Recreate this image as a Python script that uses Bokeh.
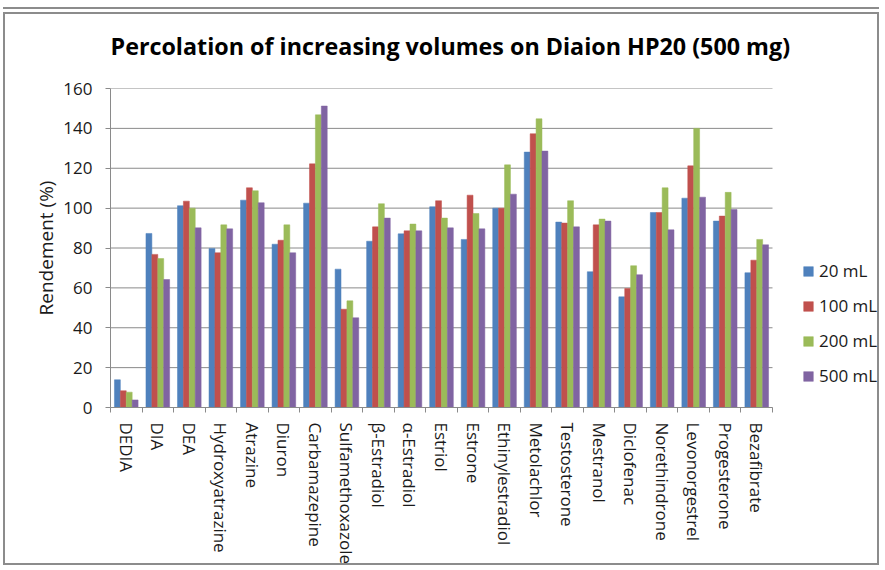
import numpy as np
from bokeh.plotting import figure
from bokeh.models import (ColumnDataSource, Range1d, LinearAxis, FixedTicker,
                          Legend, LegendItem, Title)
from bokeh.embed import file_html
from bokeh.resources import INLINE

compounds = ["DEDIA", "DIA", "DEA", "Hydroxyatrazine", "Atrazine", "Diuron",
             "Carbamazepine", "Sulfamethoxazole", "β-Estradiol", "α-Estradiol",
             "Estriol", "Estrone", "Ethinylestradiol", "Metolachlor",
             "Testosterone", "Mestranol", "Diclofenac", "Norethindrone",
             "Levonorgestrel", "Progesterone", "Bezafibrate"]
v20 = [13.9, 87.3, 101.2, 79.8, 104.0, 81.9, 102.5, 69.4, 83.4, 87.1, 100.7,
       84.3, 100.0, 128.1, 93.0, 68.1, 55.5, 97.8, 105.0, 93.5, 67.6]
v100 = [8.4, 76.8, 103.5, 77.6, 110.2, 83.9, 122.2, 49.3, 90.6, 88.6, 103.7,
        106.5, 100.0, 137.3, 92.5, 91.6, 59.7, 97.8, 121.2, 96.0, 73.9]
v200 = [7.7, 74.7, 100.0, 91.6, 108.7, 91.6, 146.8, 53.5, 102.2, 92.0, 95.0,
        97.3, 121.7, 144.8, 103.7, 94.5, 71.1, 110.2, 140.0, 107.9, 84.3]
v500 = [3.8, 64.2, 90.1, 89.6, 102.7, 77.6, 151.2, 45.0, 95.0, 88.6, 90.1,
        89.6, 107.0, 128.6, 90.6, 93.5, 66.6, 89.1, 105.5, 99.3, 81.6]
series_names = ["20 mL", "100 mL", "200 mL", "500 mL"]
series_values = [v20, v100, v200, v500]
colors = ["#4F81BD", "#C0504D", "#9BBB59", "#8064A2"]
y_ticks = [0, 20, 40, 60, 80, 100, 120, 140, 160]
title_text = "Percolation of increasing volumes on Diaion HP20 (500 mg)"

n = len(compounds)
idx = np.arange(n)
FONT = "Open Sans"
TXT = "#1a1a1a"
GRID = "#8a8a8a"

# layout (pixels)
W, H = 876, 553
ML, MR, MT = 105, 2, 74
PLOT_W, PLOT_H = 662, 319          # width of the category area, height of 0..160
MB = H - MT - PLOT_H
frame_w = W - ML - MR
x_end = -0.5 + n * frame_w / PLOT_W   # frame extends right to host the legend

p = figure(width=W, height=H, output_backend="svg", toolbar_location=None,
           x_range=Range1d(-0.5, x_end), y_range=Range1d(0, 160),
           x_axis_type=None, y_axis_type=None,
           min_border_left=ML, min_border_right=MR, min_border_top=MT,
           min_border_bottom=MB)
p.title = None
p.outline_line_color = None
p.background_fill_color = "white"
p.border_fill_color = "white"

# spacer between the title and the plot area, then the title itself
spacer = Title(text=" ", text_font_size="1px", standoff=24)
p.add_layout(spacer, "above")
title = Title(text=title_text, text_font=FONT, text_font_size="23.3px",
              text_font_style="bold", text_color="#000000", align="left",
              offset=0, standoff=0)
p.add_layout(title, "above")

# y axis
yax = LinearAxis(ticker=FixedTicker(ticks=y_ticks, minor_ticks=[]))
yax.axis_label = "Rendement (%)"
yax.axis_label_text_font = FONT
yax.axis_label_text_font_size = "19px"
yax.axis_label_text_font_style = "normal"
yax.axis_label_text_color = TXT
yax.axis_label_standoff = 1
yax.major_label_text_font = FONT
yax.major_label_text_font_size = "17px"
yax.major_label_text_color = TXT
yax.axis_line_color = GRID
yax.major_tick_line_color = GRID
yax.major_tick_out = 5
yax.major_tick_in = 0
yax.major_label_standoff = 13
p.add_layout(yax, "left")

# x axis: labels at centres, tick marks at boundaries
xax = LinearAxis(ticker=FixedTicker(ticks=list(idx),
                                    minor_ticks=list(np.arange(n + 1) - 0.5)),
                 bounds=(-0.5, n - 0.5))
xax.major_label_overrides = {int(i): compounds[i] for i in idx}
xax.major_label_orientation = "vertical"
xax.major_label_text_font = FONT
xax.major_label_text_font_size = "17px"
xax.major_label_text_color = TXT
xax.major_label_standoff = 9
xax.major_tick_line_color = None
xax.minor_tick_line_color = GRID
xax.minor_tick_out = 5
xax.minor_tick_in = 0
xax.axis_line_color = GRID
p.add_layout(xax, "below")

# horizontal gridlines limited to the category area
p.xgrid.grid_line_color = None
p.ygrid.grid_line_color = None
gsrc = ColumnDataSource(dict(x0=[-0.5] * len(y_ticks), x1=[n - 0.5] * len(y_ticks),
                             y=y_ticks))
p.segment(x0="x0", x1="x1", y0="y", y1="y", source=gsrc,
          line_color=GRID, line_width=1)

bw = 0.75 / 4
items = []
for k, (name, vals, col) in enumerate(zip(series_names, series_values, colors)):
    src = ColumnDataSource(dict(x=idx + (k - 1.5) * bw, top=vals))
    r = p.vbar(x="x", top="top", width=bw, bottom=0, source=src,
               fill_color=col, line_color=col, line_width=0.5)
    items.append(LegendItem(label=name, renderers=[r]))

legend = Legend(items=items, location=(692, 20))
legend.border_line_color = None
legend.background_fill_alpha = 0
legend.padding = 0
legend.margin = 0
legend.spacing = 12
legend.glyph_width = 12
legend.glyph_height = 12
legend.label_height = 20
legend.label_standoff = 5
legend.label_text_font = FONT
legend.label_text_font_size = "17px"
legend.label_text_color = TXT
p.add_layout(legend, "center")

p.styles = {"border": "2px solid #8c8c8c", "margin-left": "3px",
            "margin-top": "12px",
            "box-shadow": "0 -3px 0 0 #ffffff, 0 -5px 0 0 #8c8c8c"}

open("out.html", "w").write(file_html(p, INLINE))
